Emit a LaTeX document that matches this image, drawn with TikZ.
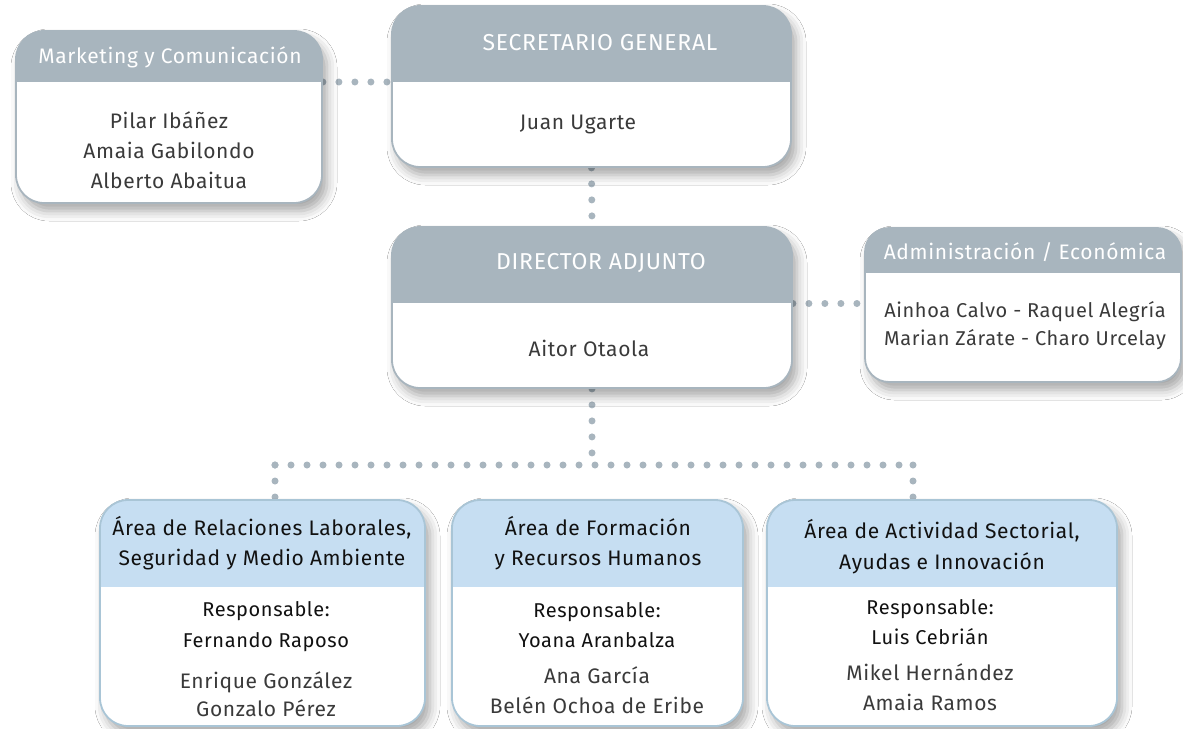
\documentclass[tikz,border=0pt]{standalone}
\usepackage{fontspec}
\setmainfont{Fira Sans}[LetterSpace=3]
\newfontfamily\hdfont{Fira Sans}[LetterSpace=3]
\usetikzlibrary{backgrounds, shadows.blur}
\definecolor{slate}{HTML}{A8B5BE}
\definecolor{skyhead}{HTML}{C6DEF2}
\definecolor{skyline}{HTML}{A9C5D6}
\definecolor{ink}{HTML}{111111}
\definecolor{softink}{HTML}{3A3A3A}

\begin{document}
\begin{tikzpicture}[x=1pt,y=-1pt,
    card/.style={
% The shape:
rectangle, rounded corners=28pt,
% The border:
draw=#1, line width=1.8pt, fill=white,
% The shadow:
blur shadow={shadow xshift=5pt, shadow yshift=-8pt,
  shadow blur radius=10pt, shadow opacity=35},
},
    head/.style 2 args={
path picture={\fill[#1, sharp corners] (path picture bounding box.north west)
  rectangle ([yshift=-#2]path picture bounding box.north east);},
},
    hdtext/.style={font=\hdfont\fontsize{21}{30}\selectfont, text=white},
    captext/.style={font=\hdfont\fontsize{23}{30}\selectfont, text=white},
    areatext/.style={font=\hdfont\fontsize{21}{30}\selectfont, text=ink, align=center},
    names/.style={font=\fontsize{21}{30}\selectfont, text=softink, align=center},
    dots/.style={draw=slate, line width=7pt, line cap=round,
      dash pattern=on 0pt off 16pt},
]
  % boxes
  \node[card=slate, head={slate}{51pt}, minimum width=306pt, minimum height=172pt]
    (mkt) at (169,117) {};
  \node[card=slate, head={slate}{76pt}, minimum width=399pt, minimum height=161pt]
    (sec) at (591.5,86.5) {};
  \node[card=slate, head={slate}{76pt}, minimum width=400pt, minimum height=161pt]
    (dir) at (592,307.5) {};
  \node[card=slate, head={slate}{45pt}, minimum width=316pt, minimum height=154pt, rounded corners=24pt]
    (adm) at (1023,305) {};
  \node[card=skyline, head={skyhead}{87pt}, minimum width=325pt, minimum height=226pt]
    (ar1) at (262.5,613) {};
  \node[card=skyline, head={skyhead}{87pt}, minimum width=291pt, minimum height=226pt]
    (ar2) at (597.5,613) {};
  \node[card=skyline, head={skyhead}{87pt}, minimum width=350pt, minimum height=226pt]
    (ar3) at (942,613) {};

  % texts
  \node[hdtext]   (mkt-t) at (170,57) {Marketing y Comunicación};
  \node[names]    (mkt-n) at (169,150) {Pilar Ibáñez\\Amaia Gabilondo\\Alberto Abaitua};
  \node[captext]  (sec-t) at (600,43) {SECRETARIO GENERAL};
  \node[names]    (sec-n) at (578,125) {Juan Ugarte};
  \node[captext]  (dir-t) at (601,263) {DIRECTOR ADJUNTO};
  \node[names]    (dir-n) at (589,348) {Aitor Otaola};
  \node[hdtext]   (adm-t) at (1025,252) {Administración / Económica};
  \node[names, font=\fontsize{20}{28}\selectfont]
                  (adm-n) at (1025,326) {Ainhoa Calvo - Raquel Alegría\\Marian Zárate - Charo Urcelay};

  \node[areatext] (ar1-t) at (262,543) {Área de Relaciones Laborales,\\Seguridad y Medio Ambiente};
  \node[areatext, font=\hdfont\fontsize{20}{31}\selectfont]
                  (ar1-r) at (266,627) {Responsable:\\Fernando Raposo};
  \node[names, font=\fontsize{21}{28}\selectfont]
                  (ar1-n) at (266,694) {Enrique González\\Gonzalo Pérez};
  \node[areatext] (ar2-t) at (598,543) {Área de Formación\\y Recursos Humanos};
  \node[areatext, font=\hdfont\fontsize{20}{30}\selectfont]
                  (ar2-r) at (597,625) {Responsable:\\Yoana Aranbalza};
  \node[names]    (ar2-n) at (597,690) {Ana García\\Belén Ochoa de Eribe};
  \node[areatext, font=\hdfont\fontsize{21}{31}\selectfont]
                  (ar3-t) at (942,547) {Área de Actividad Sectorial,\\Ayudas e Innovación};
  \node[areatext, font=\hdfont\fontsize{20}{30}\selectfont]
                  (ar3-r) at (930,622) {Responsable:\\Luis Cebrián};
  \node[names]    (ar3-n) at (930,687) {Mikel Hernández\\Amaia Ramos};

  \coordinate (busL) at (275,465);
  \coordinate (busR) at (913,465);

  % dotted links, behind the boxes
  \begin{pgfonlayer}{background}
    \path[use as bounding box, fill=white] (0,0) rectangle (1183,728);
    \draw[dots] ([yshift=35pt]mkt.east) -- ([yshift=35pt]mkt.east -| sec.west);
    \draw[dots] (sec.south) -- (dir.north);
    \draw[dots] ([yshift=4pt]dir.east) -- ([yshift=4pt]dir.east -| adm.west);
    \draw[dots] (dir.south) -- (dir.south |- busL);
    \draw[dots] (busL) -- (busR);
    \draw[dots] (busL) -- (busL |- ar1.north);
    \draw[dots] (busR) -- (busR |- ar3.north);
  \end{pgfonlayer}
\end{tikzpicture}
\end{document}
